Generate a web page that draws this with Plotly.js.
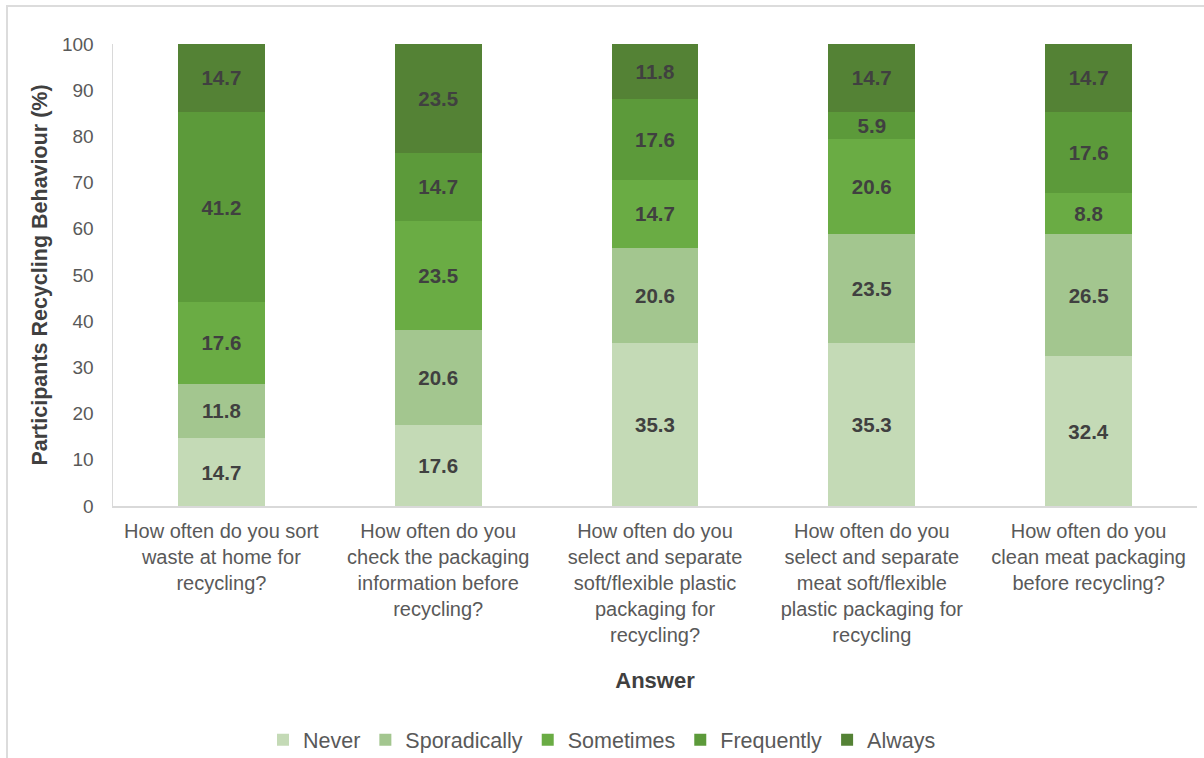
<!DOCTYPE html>
<html>
<head>
<meta charset="utf-8">
<script src="https://cdn.plot.ly/plotly-3.0.1.min.js"></script>
<style>
  html, body { margin:0; padding:0; background:#ffffff; }
  #wrap { position:relative; width:1204px; height:758px; }
  #chart { position:absolute; left:0; top:0; width:1204px; height:758px; }
  #frame { position:absolute; left:6px; top:5px; right:0; bottom:0; border-left:2px solid #dcdcdc; border-top:2px solid #dcdcdc; pointer-events:none; }
</style>
</head>
<body>
<div id="wrap"><div id="chart"></div><div id="frame"></div></div>
<script>
const categories = [
  "How often do you sort<br>waste at home for<br>recycling?",
  "How often do you<br>check the packaging<br>information before<br>recycling?",
  "How often do you<br>select and separate<br>soft/flexible plastic<br>packaging for<br>recycling?",
  "How often do you<br>select and separate<br>meat soft/flexible<br>plastic packaging for<br>recycling",
  "How often do you<br>clean meat packaging<br>before recycling?"
];
const never        = [14.7, 17.6, 35.3, 35.3, 32.4];
const sporadically = [11.8, 20.6, 20.6, 23.5, 26.5];
const sometimes    = [17.6, 23.5, 14.7, 20.6, 8.8];
const frequently   = [41.2, 14.7, 17.6, 5.9, 17.6];
const always       = [14.7, 23.5, 11.8, 14.7, 14.7];
const seriesNames  = ["Never", "Sporadically", "Sometimes", "Frequently", "Always"];
const seriesValues = [never, sporadically, sometimes, frequently, always];
const seriesColors = ["#c4dab6", "#a3c68f", "#6aac44", "#5c9a3a", "#548235"];
const yTicks = [0, 10, 20, 30, 40, 50, 60, 70, 80, 90, 100];

const FONT = "Liberation Sans, Arial, sans-serif";

const traces = seriesNames.map((name, i) => ({
  type: "bar",
  name: name,
  x: categories,
  y: seriesValues[i],
  marker: { color: seriesColors[i], line: { width: 0 } },
  texttemplate: "<b>%{y:.1f}</b>",
  textposition: "inside",
  insidetextanchor: "middle",
  textangle: 0,
  textfont: { family: FONT, size: 20.5, color: "#404040" },
  hoverinfo: "name+y"
}));

const layout = {
  width: 1204,
  height: 758,
  barmode: "stack",
  bargap: 0.6,
  paper_bgcolor: "rgba(0,0,0,0)",
  plot_bgcolor: "rgba(0,0,0,0)",
  margin: { l: 113, r: 7, t: 44, b: 252 },
  font: { family: FONT, size: 19, color: "#595959" },
  uniformtext: { mode: "show", minsize: 20 },
  xaxis: {
    type: "category",
    showgrid: false,
    showline: true,
    linecolor: "#d9d9d9",
    linewidth: 1.5,
    ticks: "",
    ticklabelstandoff: 6,
    tickfont: { family: FONT, size: 20, color: "#595959" },
    title: { text: "<b>Answer</b>", font: { family: FONT, size: 22, color: "#404040" }, standoff: 28 }
  },
  yaxis: {
    range: [0, 100],
    tickvals: yTicks,
    showgrid: false,
    zeroline: false,
    showline: true,
    linecolor: "#d9d9d9",
    linewidth: 1.5,
    ticks: "",
    ticklabelstandoff: 14,
    tickfont: { family: FONT, size: 19, color: "#595959" },
    title: { text: "<b>Participants Recycling Behaviour (%)</b>", font: { family: FONT, size: 21.5, color: "#404040" }, standoff: 8 }
  },
  legend: {
    orientation: "h",
    x: 0.5,
    xanchor: "center",
    xref: "container",
    y: 0.024,
    yref: "container",
    yanchor: "middle",
    traceorder: "normal",
    font: { family: FONT, size: 21.5, color: "#595959" },
    itemwidth: 30
  },
  showlegend: true
};

Plotly.newPlot("chart", traces, layout, { displayModeBar: false, staticPlot: true });
</script>
</body>
</html>
